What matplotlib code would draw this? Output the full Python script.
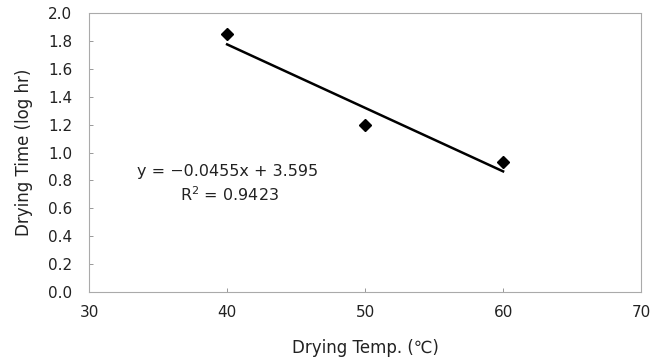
import matplotlib
matplotlib.use("Agg")
from matplotlib import pyplot as plt

temp = [40, 50, 60]
drying_time = [1.85, 1.20, 0.935]

# trend line as printed on the chart
slope = -0.0455
intercept = 3.595
r2 = 0.9423
trend_x = [40, 60]

x_ticks = [30, 40, 50, 60, 70]
y_ticks = [0.0, 0.2, 0.4, 0.6, 0.8, 1.0, 1.2, 1.4, 1.6, 1.8, 2.0]

plt.rcParams['font.family'] = ['DejaVu Sans']
txt = '#222222'

fig = plt.figure(figsize=(6.65, 3.61), dpi=100)
ax = fig.add_axes([0.134, 0.191, 0.830, 0.773])

ax.plot(temp, drying_time, 'D', color='black', markersize=6)
trend_y = [slope * v + intercept for v in trend_x]
ax.plot(trend_x, trend_y, color='black', lw=1.8)

ax.set_xlim(30, 70)
ax.set_ylim(0, 2.0)
ax.set_xticks(x_ticks)
ax.set_yticks(y_ticks)
ax.set_yticklabels(['%.1f' % v for v in y_ticks])
ax.tick_params(direction='in', length=3, width=0.6, color='#888888',
               labelsize=11, labelcolor=txt)
ax.tick_params(axis='y', pad=12)
ax.tick_params(axis='x', pad=9)

for s in ax.spines.values():
    s.set_color('#aaaaaa')
    s.set_linewidth(0.8)
    s.set_linestyle((0, (2, 1)))

ax.set_xlabel('Drying Temp. (\u2103)', fontsize=12, color=txt, labelpad=14)
ax.set_ylabel('Drying Time (log hr)', fontsize=12, color=txt, labelpad=11)

ax.text(40.0, 0.867, 'y = \u22120.0455x + 3.595', ha='center', va='center',
        fontsize=11.5, color=txt)
ax.text(40.2, 0.70, 'R$^2$ = %.4f' % r2, ha='center', va='center',
        fontsize=11.5, color=txt)

fig.savefig('out.png', dpi=100)
